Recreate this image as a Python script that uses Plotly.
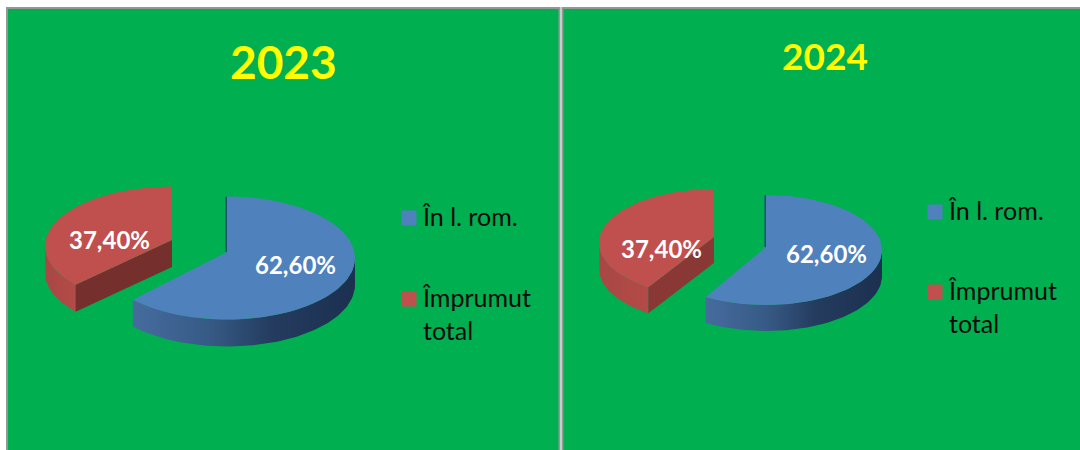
import numpy as np
import plotly.graph_objects as go

# Data
years = ["2023", "2024"]
categories = ["În l. rom.", "Împrumut<br>total"]
shares_2023 = [62.60, 37.40]
shares_2024 = [62.60, 37.40]
colors = ["#4F81BD", "#C0504D"]

# Panel drawing set-up (all in figure pixels, through a pixel-ranged axis)
panels = [
    dict(year=years[0], shares=shares_2023, box=(7, 8, 559.5, 452),
         title=(283, 61), title_size=46,
         blue=dict(apex=(227, 252), rx=128, ry=61.5, dy=6, warp=-2),
         red=dict(apex=(172, 240), rx=127, ry=59.5, dy=6, warp=-4),
         depth=27,
         labels=[(295, 264), (109, 239)],
         swatch_x=409, swatch_y=[218, 299], text_x=420, redface="#752F2D"),
    dict(year=years[1], shares=shares_2024, box=(562.5, 8, 1082, 452),
         title=(825, 55), title_size=37,
         blue=dict(apex=(766, 247), rx=116, ry=55, dy=3, warp=14),
         red=dict(apex=(714, 237), rx=115, ry=54, dy=6, warp=10.5),
         depth=26,
         labels=[(826, 253), (661, 248)],
         swatch_x=935, swatch_y=[212, 292], text_x=946, redface="#8A3836"),
]

BLUE_RIM = [[0, "#466C9F"], [0.35, "#365A85"], [0.62, "#243C5F"], [1, "#1C3050"]]
RED_RIM = [[0, "#A84744"], [1, "#B34B48"]]


def rim_point(g, deg):
    """Project an angle (clockwise from 12 o'clock) on to the tilted disc."""
    t = np.radians(deg - g["warp"] * np.sin(np.radians(2 * deg)))
    return g["apex"][0] + g["rx"] * np.sin(t), g["apex"][1] + g["dy"] - g["ry"] * np.cos(t)


def arc(g, a, b, n=90):
    return rim_point(g, np.linspace(a, b, n))


fig = go.Figure()
shapes, annotations = [], []
line_none = dict(width=0)

for p in panels:
    x0, y0, x1, y1 = p["box"]
    shapes.append(dict(type="rect", x0=x0, y0=y0, x1=x1, y1=y1, layer="below",
                       fillcolor="#00AF50", line=dict(color="#8E9A93", width=2)))
    end = 360 * p["shares"][0] / sum(p["shares"])
    blue, red = p["blue"], p["red"]

    # blue slice: outer wall, thin inner wall, top
    ax, ay = arc(blue, 90, end)
    fig.add_trace(go.Scatter(
        x=np.r_[ax, ax[::-1]], y=np.r_[ay, ay[::-1] + p["depth"]], mode="lines",
        fill="toself", line=line_none, hoverinfo="skip",
        fillgradient=dict(type="horizontal", colorscale=BLUE_RIM),
        name="blue wall"))
    tx, ty = arc(blue, 0, end)
    fig.add_trace(go.Scatter(
        x=np.r_[blue["apex"][0] - 0.8, tx[0] - 0.8], y=np.r_[blue["apex"][1], ty[0]], mode="lines",
        line=dict(color="#1F4E6E", width=1.5), hoverinfo="skip", name="blue cut"))
    fig.add_trace(go.Scatter(
        x=np.r_[blue["apex"][0], tx], y=np.r_[blue["apex"][1], ty], mode="lines",
        fill="toself", fillcolor=colors[0], line=line_none, name=categories[0]))

    # red slice: outer wall, cut face, top
    rx_, ry_ = arc(red, end, 270, 40)
    fig.add_trace(go.Scatter(
        x=np.r_[rx_, rx_[::-1]], y=np.r_[ry_, ry_[::-1] + p["depth"]], mode="lines",
        fill="toself", line=line_none, hoverinfo="skip",
        fillgradient=dict(type="horizontal", colorscale=RED_RIM),
        name="red wall"))
    cx, cy = rim_point(red, end)
    ax_, ay_ = red["apex"]
    fig.add_trace(go.Scatter(
        x=[ax_, cx, cx, ax_, ax_], y=[ay_, cy, cy + p["depth"], ay_ + p["depth"], ay_],
        mode="lines", fill="toself", fillcolor=p["redface"], line=line_none,
        hoverinfo="skip", name="red cut"))
    tx, ty = arc(red, end, 360)
    fig.add_trace(go.Scatter(
        x=np.r_[ax_, tx], y=np.r_[ay_, ty], mode="lines",
        fill="toself", fillcolor=colors[1], line=line_none, name=categories[1]))

    # legend swatches
    fig.add_trace(go.Scatter(
        x=[p["swatch_x"]] * 2, y=p["swatch_y"], mode="markers", hoverinfo="skip",
        marker=dict(symbol="square", size=15, color=colors, line=dict(width=0)),
        name="legend"))

    annotations.append(dict(x=p["title"][0], y=p["title"][1], text=f"<b>{p['year']}</b>",
                            showarrow=False, font=dict(family="Lato", size=p["title_size"], color="#FFFF00")))
    for v, (lx, ly) in zip(p["shares"], p["labels"]):
        annotations.append(dict(x=lx, y=ly, text="<b>" + f"{v:.2f}%".replace(".", ",") + "</b>",
                                showarrow=False, font=dict(family="Lato", size=24, color="white")))
    for c, sy in zip(categories, p["swatch_y"]):
        annotations.append(dict(x=p["text_x"], y=sy - 19, text=c, showarrow=False, xanchor="left",
                                yanchor="top", align="left",
                                font=dict(family="Lato", size=25, color="#0A0A0A")))

fig.update_layout(
    width=1080, height=450, margin=dict(l=0, r=0, t=0, b=0),
    paper_bgcolor="white", plot_bgcolor="white", showlegend=False,
    xaxis=dict(range=[0, 1080], visible=False, fixedrange=True),
    yaxis=dict(range=[450, 0], visible=False, fixedrange=True),
    shapes=shapes, annotations=annotations,
)
fig.write_html("out.html", config=dict(displayModeBar=False),
               post_script="document.body.style.margin='0';document.documentElement.style.overflow='hidden';")
